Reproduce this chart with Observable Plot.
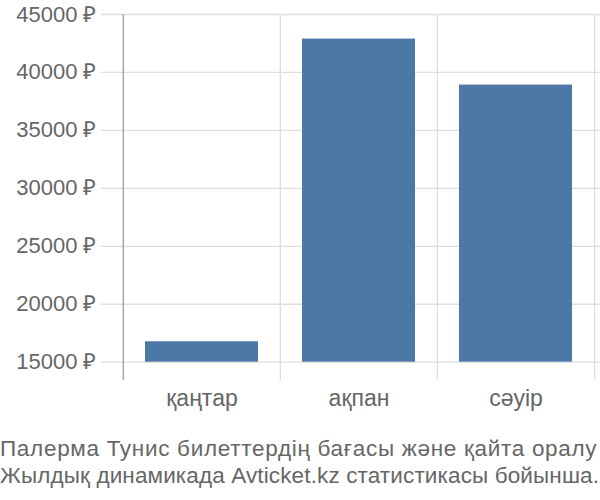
<!DOCTYPE html>
<html>
<head>
<meta charset="utf-8">
<script src="https://cdn.jsdelivr.net/npm/d3@7"></script>
<script src="https://cdn.jsdelivr.net/npm/@observablehq/plot@0.6"></script>
<style>
  html, body { margin: 0; padding: 0; background: #fff; }
  body { width: 600px; font-family: "Liberation Sans", Arial, sans-serif; }
  #chart svg { display: block; }
  #caption { color: #666; font-size: 22.5px; line-height: 27px; white-space: nowrap; margin-top: 15px; }
  #caption .l1 { letter-spacing: 0.7px; }
  #caption .l2 { letter-spacing: 0.13px; }
</style>
</head>
<body>
<div id="chart"></div>
<div id="caption"><div class="l1">Палерма Тунис билеттердің бағасы және қайта оралу</div><div class="l2">Жылдық динамикада Avticket.kz статистикасы бойынша.</div></div>
<script>
const categories = ["қаңтар", "ақпан", "сәуір"];
const prices = [16760, 42880, 38910];
const yTicks = [15000, 20000, 25000, 30000, 35000, 40000, 45000];
const baseValue = 15000;
const data = categories.map((c, i) => ({category: c, price: prices[i]}));

const W = 600, H = 420, mL = 122, mR = 6, mT = 14, mB = 40;
const step = (W - mL - mR) / categories.length;

const chart = Plot.plot({
  width: W,
  height: H,
  marginLeft: mL,
  marginRight: mR,
  marginTop: mT,
  marginBottom: mB,
  style: {fontFamily: "Liberation Sans, Arial, sans-serif", fontSize: "22px", color: "#666", background: "#fff"},
  x: {domain: categories, padding: 0, label: null},
  y: {domain: [13420, 45000], label: null},
  marks: [
    Plot.ruleY(yTicks, {y: d => d, stroke: "#ddd", strokeWidth: 1.3, insetLeft: -21, insetRight: -6}),
    Plot.ruleX(categories, {x: d => d, dx: -step / 2, stroke: "#ddd", strokeWidth: 1.3}),
    Plot.ruleX([categories[categories.length - 1]], {x: d => d, dx: step / 2, stroke: "#ddd", strokeWidth: 1.3}),
    Plot.ruleX([categories[0]], {x: d => d, dx: -step / 2, stroke: "#aaa", strokeWidth: 1.5}),
    Plot.barY(data, {x: "category", y1: () => baseValue, y2: "price", fill: "#4c78a8", insetLeft: 22, insetRight: 22}),
    Plot.axisY({ticks: yTicks, tickSize: 0, tickPadding: 26, tickFormat: d => d + " ₽", fill: "#666", fontSize: 22, label: null}),
    Plot.axisX({tickSize: 0, tickPadding: 9, fill: "#666", fontSize: 23, label: null})
  ]
});
document.getElementById("chart").appendChild(chart);
</script>
</body>
</html>
